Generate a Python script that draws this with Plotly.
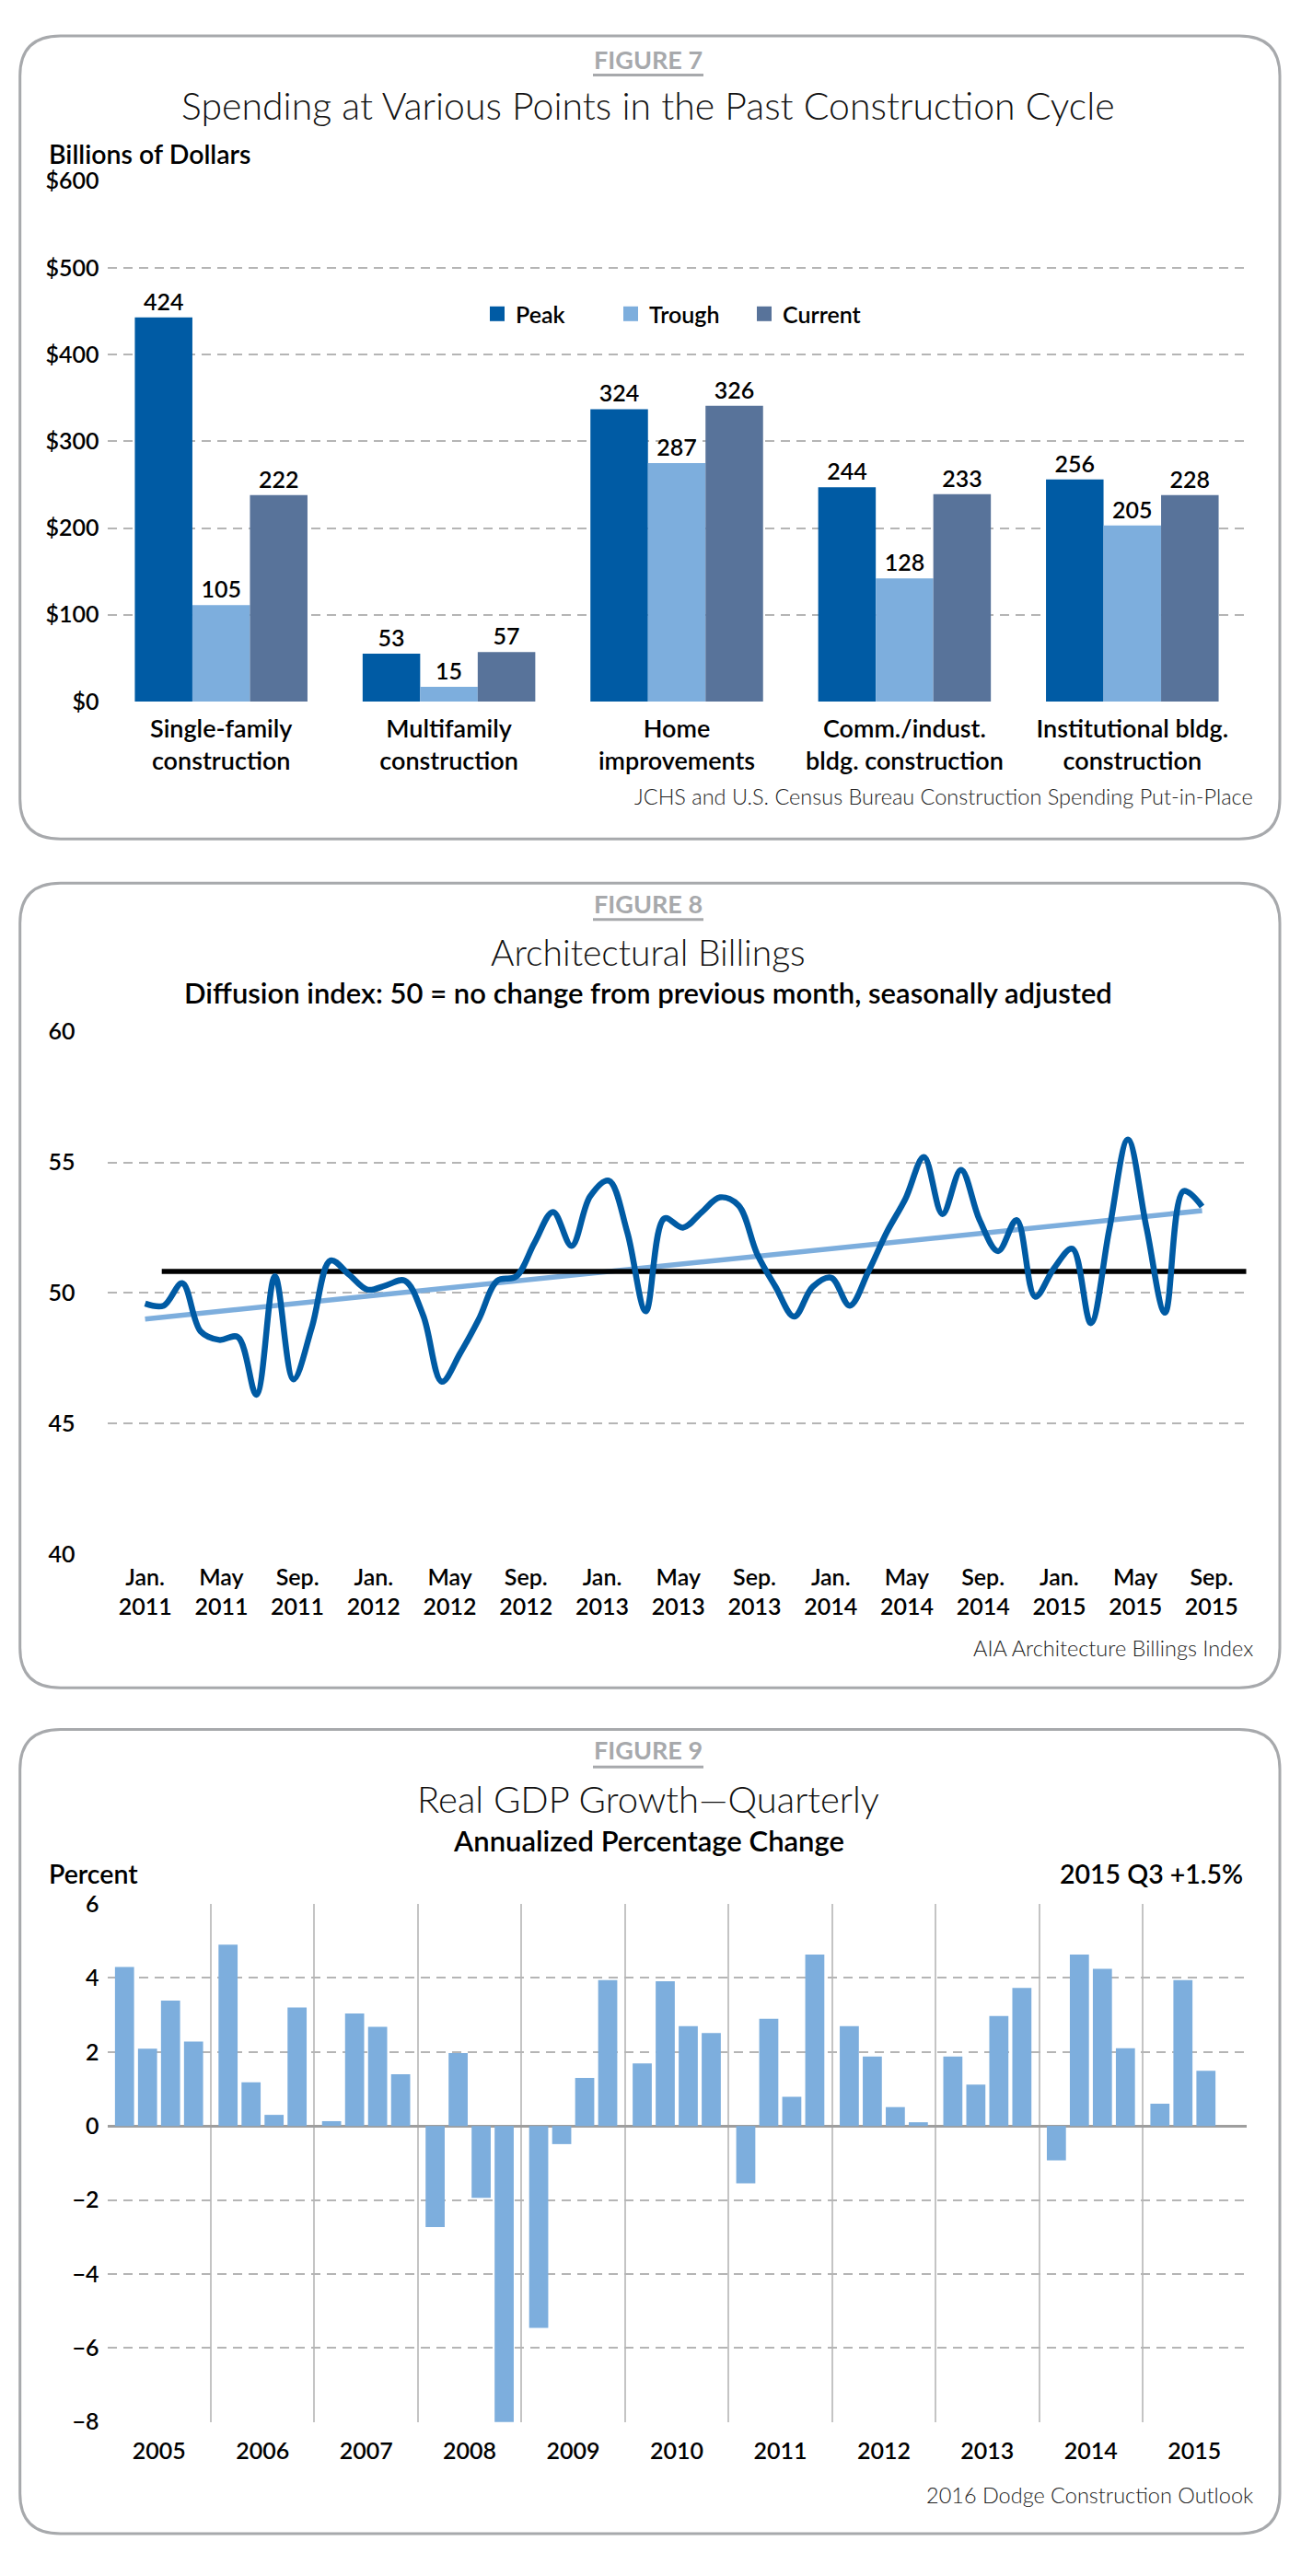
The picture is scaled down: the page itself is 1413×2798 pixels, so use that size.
import plotly.graph_objects as go

W, H = 1413, 2798

# ---- Figure 7: construction spending (billions of dollars)
spend_categories = [
    "Single-family<br>construction",
    "Multifamily<br>construction",
    "Home<br>improvements",
    "Comm./indust.<br>bldg. construction",
    "Institutional bldg.<br>construction",
]
peak_spend = [443, 55, 337, 247, 256]
trough_spend = [111, 17, 275, 142, 203]
current_spend = [238, 57, 341, 239, 238]
peak_labels = ["424", "53", "324", "244", "256"]
trough_labels = ["105", "15", "287", "128", "205"]
current_labels = ["222", "57", "326", "233", "228"]

# ---- Figure 8: AIA billings index, monthly from Jan. 2011
abi_values = [
    49.59, 49.51, 50.37, 48.52, 48.2, 48.31, 46.1, 50.64, 46.69, 48.7,
    51.24, 50.7, 50.12, 50.29, 50.47, 49.13, 46.6, 47.7, 49.0, 50.47,
    50.62, 51.92, 53.1, 51.8, 53.7, 54.3, 52.33, 49.3, 52.85, 52.5,
    53.08, 53.66, 53.35, 51.5, 50.23, 49.09, 50.23, 50.58, 49.51, 50.81,
    52.33, 53.6, 55.2, 53.02, 54.71, 52.79, 51.6, 52.79, 49.85, 50.93,
    51.69, 48.84, 52.45, 55.87, 52.5, 49.24, 53.9, 53.31,
]
abi_months = list(range(len(abi_values)))
abi_trend = [49.0, 53.15]          # first and last month of the trend line
abi_average = 50.82
abi_average_start = 0.9            # month where the average line begins
abi_tick_months = [0, 4, 8, 12, 16, 20, 24, 28, 32, 36, 40, 44, 48, 52, 56]
abi_tick_labels = [
    "Jan.<br>2011", "May<br>2011", "Sep.<br>2011",
    "Jan.<br>2012", "May<br>2012", "Sep.<br>2012",
    "Jan.<br>2013", "May<br>2013", "Sep.<br>2013",
    "Jan.<br>2014", "May<br>2014", "Sep.<br>2014",
    "Jan.<br>2015", "May<br>2015", "Sep.<br>2015",
]

# ---- Figure 9: real GDP growth, quarterly from 2005 Q1
gdp_years = ["2005", "2006", "2007", "2008", "2009", "2010",
             "2011", "2012", "2013", "2014", "2015"]
gdp_growth = [
    4.3, 2.09, 3.39, 2.28,
    4.9, 1.18, 0.3, 3.2,
    0.13, 3.04, 2.68, 1.4,
    -2.73, 1.97, -1.94, -8.2,
    -5.46, -0.49, 1.3, 3.94,
    1.69, 3.91, 2.7, 2.51,
    -1.55, 2.9, 0.79, 4.63,
    2.7, 1.88, 0.51, 0.1,
    1.88, 1.12, 2.97, 3.73,
    -0.93, 4.63, 4.25, 2.1,
    0.6, 3.94, 1.49,
]

DARK = "#005BA4"
LIGHT = "#7DAEDD"
SLATE = "#58739A"
BORDER = "#A7A9AC"
GRID = "#B5B5B5"
FONT = "Lato"


def fx(x):
    return x / W


def fy(y):
    return 1 - y / H


fig = go.Figure()

# figure 7 bars
for name, vals, labels, color in [
    ("Peak", peak_spend, peak_labels, DARK),
    ("Trough", trough_spend, trough_labels, LIGHT),
    ("Current", current_spend, current_labels, SLATE),
]:
    fig.add_trace(go.Bar(
        x=spend_categories, y=vals, name=name, marker=dict(color=color, line=dict(width=0)),
        text=labels, textposition="outside", cliponaxis=False,
        textfont=dict(family=FONT, size=25, color="black", weight=600),
        showlegend=False, xaxis="x", yaxis="y",
    ))
    # legend key
    fig.add_trace(go.Scatter(
        x=[None], y=[None], mode="markers", name=name,
        marker=dict(symbol="square", size=19, color=color),
        xaxis="x", yaxis="y",
    ))

# figure 8: an empty trace keeps the label axis drawn
fig.add_trace(go.Scatter(
    x=abi_tick_months, y=[None] * len(abi_tick_months), mode="lines",
    showlegend=False, hoverinfo="skip", xaxis="x2", yaxis="y2",
))
fig.add_trace(go.Scatter(
    x=[abi_months[0], abi_months[-1]], y=abi_trend, mode="lines",
    line=dict(color=LIGHT, width=5.5), showlegend=False, xaxis="x4", yaxis="y2",
))
fig.add_trace(go.Scatter(
    x=[abi_average_start, 60], y=[abi_average, abi_average], mode="lines",
    line=dict(color="black", width=5.5), showlegend=False, xaxis="x4", yaxis="y2",
))
fig.add_trace(go.Scatter(
    x=abi_months, y=abi_values, mode="lines",
    line=dict(color=DARK, width=6.5, shape="spline", smoothing=1.0),
    showlegend=False, xaxis="x4", yaxis="y2",
))

# figure 9 bars: four quarters per year, half a slot of space around each year
YEAR_SLOT = 4.5
gdp_x = [(k // 4) * YEAR_SLOT + 0.75 + (k % 4) for k in range(len(gdp_growth))]
year_centers = [i * YEAR_SLOT + YEAR_SLOT / 2 for i in range(len(gdp_years))]
year_breaks = [i * YEAR_SLOT for i in range(1, len(gdp_years))]
fig.add_trace(go.Bar(
    x=gdp_x, y=gdp_growth, width=0.83, marker=dict(color=LIGHT, line=dict(width=0)),
    showlegend=False, xaxis="x3", yaxis="y3",
))

XDOM = [fx(116.5), fx(1353.5)]
tickfont = dict(family=FONT, size=25, color="black", weight=600)
grid = dict(showgrid=True, gridcolor=GRID, gridwidth=1.5, griddash="10px,7px",
            zeroline=False, showline=False, ticks="", fixedrange=True)

fig.update_layout(
    width=W, height=H,
    margin=dict(l=0, r=0, t=0, b=0),
    paper_bgcolor="white", plot_bgcolor="white",
    font=dict(family=FONT, color="black"),
    barmode="group", bargap=0.242, bargroupgap=0,
    showlegend=True,
    legend=dict(orientation="h", x=fx(520), y=fy(328.6), xanchor="left", yanchor="middle",
                font=dict(family=FONT, size=25, color="black", weight=600),
                bgcolor="rgba(0,0,0,0)", entrywidth=100, itemclick=False, itemdoubleclick=False),
    xaxis=dict(domain=XDOM, anchor="y", range=[-0.5, 4.5], showgrid=False, zeroline=False,
               ticks="", tickfont=dict(family=FONT, size=27, color="black", weight=600),
               ticklabelstandoff=11, fixedrange=True),
    yaxis=dict(domain=[fy(754), fy(182.7)], anchor="x", range=[0, 600], dtick=100,
               tickprefix="$", tickfont=tickfont, ticklabelstandoff=8, **grid),
    xaxis2=dict(domain=XDOM, anchor="y2", range=[-1.99, 57.82], tickmode="array",
                tickvals=abi_tick_months, ticktext=abi_tick_labels, showgrid=False,
                zeroline=False, ticks="", tickfont=tickfont, ticklabelstandoff=8, fixedrange=True),
    xaxis4=dict(domain=XDOM, overlaying="x2", anchor="y2", range=[-2.04, 59.38],
                visible=False, fixedrange=True),
    yaxis2=dict(domain=[fy(1690), fy(1116.7)], anchor="x2", range=[40, 60], dtick=5,
                tickfont=tickfont, ticklabelstandoff=34, **grid),
    xaxis3=dict(domain=XDOM, anchor="y3", range=[0, len(gdp_years) * YEAR_SLOT],
                tickmode="array", tickvals=year_centers, ticktext=gdp_years,
                showgrid=False, zeroline=False, ticks="", tickfont=tickfont,
                ticklabelstandoff=14, fixedrange=True,
                minor=dict(tickmode="array", tickvals=year_breaks, showgrid=True,
                           gridcolor="#C4C4C4", gridwidth=1.5, ticks="")),
    yaxis3=dict(domain=[fy(2643), fy(2074.3)], anchor="x3", range=[-8, 6], dtick=2,
                tickfont=tickfont, ticklabelstandoff=8,
                showgrid=True, gridcolor=GRID, gridwidth=1.5, griddash="10px,7px",
                zeroline=True, zerolinecolor="#9E9E9E", zerolinewidth=3,
                showline=False, ticks="", fixedrange=True),
)

# panel frames with rounded corners
R = 44
shapes = []
for top, bottom in [(23.3, 905), (953.4, 1837), (1882.7, 2765.7)]:
    x0, x1 = 21.7, 1390
    rx, ry = R / W, R / H
    a0, a1, b0, b1 = fx(x0), fx(x1), fy(top), fy(bottom)
    path = (f"M {a0 + rx},{b0} L {a1 - rx},{b0} Q {a1},{b0} {a1},{b0 - ry} "
            f"L {a1},{b1 + ry} Q {a1},{b1} {a1 - rx},{b1} "
            f"L {a0 + rx},{b1} Q {a0},{b1} {a0},{b1 + ry} "
            f"L {a0},{b0 - ry} Q {a0},{b0} {a0 + rx},{b0} Z")
    shapes.append(dict(type="path", path=path, xref="paper", yref="paper",
                       line=dict(color=BORDER, width=3), layer="below"))

annotations = []
headers = [
    ("FIGURE 7", 48.6, 66.3, "Spending at Various Points in the Past Construction Cycle", 100, 41,
     None, None),
    ("FIGURE 8", 975.7, 993.4, "Architectural Billings", 1028.6, 39,
     "Diffusion index: 50 = no change from previous month, seasonally adjusted", 1073.8),
    ("FIGURE 9", 1904.5, 1923.8, "Real GDP Growth\u2014Quarterly", 1958.9, 40,
     "Annualized Percentage Change", 2004.2),
]
for label, ly, uy, title, ty, tsize, sub, sy in headers:
    annotations.append(dict(text=label, x=fx(704), y=fy(ly), xref="paper", yref="paper",
                            showarrow=False, xanchor="center", yanchor="middle",
                            font=dict(family=FONT, size=27, color=BORDER, weight=700)))
    shapes.append(dict(type="line", xref="paper", yref="paper", x0=fx(644), x1=fx(764),
                       y0=fy(uy), y1=fy(uy), line=dict(color=BORDER, width=3)))
    annotations.append(dict(text=title, x=fx(704), y=fy(ty), xref="paper", yref="paper",
                            showarrow=False, xanchor="center", yanchor="middle",
                            font=dict(family=FONT, size=tsize, color="#111111", weight=300)))
    if sub:
        annotations.append(dict(text=sub, x=fx(704), y=fy(sy), xref="paper", yref="paper",
                                showarrow=False, xanchor="center", yanchor="middle",
                                font=dict(family=FONT, size=31, color="black", weight=600)))

side_notes = [
    ("Billions of Dollars", 50.7, 152.5, "left"),
    ("Percent", 50.7, 2041, "left"),
    ("2015 Q3 +1.5%", 1352, 2041, "right"),
]
for text, x, y, anchor in side_notes:
    annotations.append(dict(text=text, x=fx(x), y=fy(y), xref="paper", yref="paper",
                            showarrow=False, xanchor=anchor, yanchor="middle",
                            font=dict(family=FONT, size=28.5, color="black", weight=600)))

sources = [
    ("JCHS and U.S. Census Bureau Construction Spending Put-in-Place", 858),
    ("AIA Architecture Billings Index", 1793),
    ("2016 Dodge Construction Outlook", 2723.4),
]
for text, y in sources:
    annotations.append(dict(text=text, x=fx(1363), y=fy(y), xref="paper", yref="paper",
                            showarrow=False, xanchor="right", yanchor="middle",
                            font=dict(family=FONT, size=23.5, color="#222222", weight=300)))

fig.update_layout(shapes=shapes, annotations=annotations)

# the page's default body margin would push the chart off its origin
fig.write_html("out.html", config={"displayModeBar": False},
               post_script="document.body.style.margin = '0px';")
